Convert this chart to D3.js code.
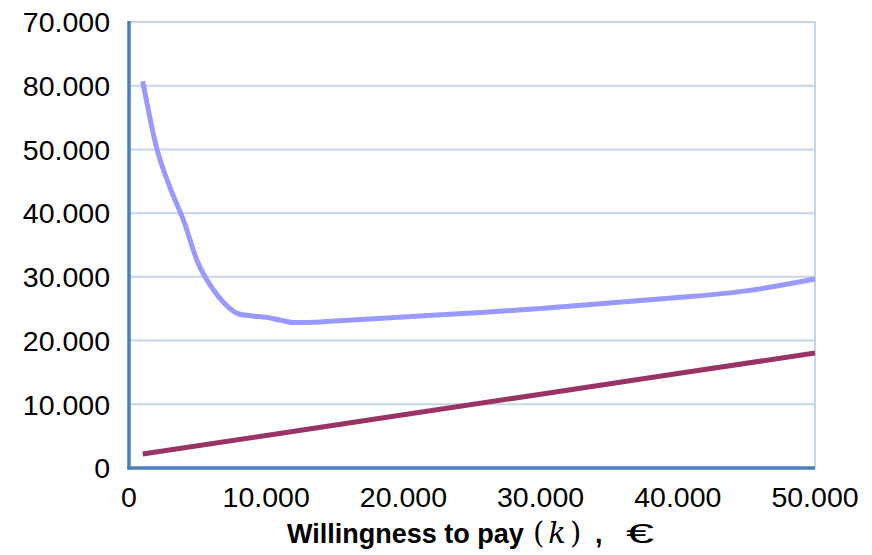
<!DOCTYPE html>
<html>
<head>
<meta charset="utf-8">
<script src="https://cdn.jsdelivr.net/npm/d3@7"></script>
<style>
  html, body { margin: 0; padding: 0; background: #ffffff; }
  svg { display: block; }
</style>
</head>
<body>
<svg id="chart" width="872" height="555"></svg>
<script>
// Willingness to pay k (€)
const kValues = [1000, 2000, 3000, 4000, 5000, 6000, 7000, 8000, 9000, 10000,
                 11000, 12000, 13000, 15000, 20000, 25000, 30000, 35000, 40000, 45000, 50000];
// Upper curve
const upperSeries = [60700, 50380, 43950, 38700, 32330, 28410, 25740, 24170, 23860, 23650,
                     23230, 22840, 22840, 23070, 23700, 24330, 25030, 25900, 26750, 27800, 29660];
// Lower straight line
const lowerK = [1000, 10000, 20000, 30000, 40000, 50000];
const lowerSeries = [2200, 5110, 8350, 11580, 14820, 18050];

const xTicks = [0, 10000, 20000, 30000, 40000, 50000];
const xTickLabels = ["0", "10.000", "20.000", "30.000", "40.000", "50.000"];
const yTicks = [0, 10000, 20000, 30000, 40000, 50000, 60000, 70000];
const yTickLabels = ["0", "10.000", "20.000", "30.000", "40.000", "50.000", "80.000", "70.000"];

const svg = d3.select("#chart");
const plotLeft = 129, plotRight = 815, plotTop = 22, plotBottom = 468;

const x = d3.scaleLinear().domain([0, 50000]).range([plotLeft, plotRight]);
const y = d3.scaleLinear().domain([0, 70000]).range([plotBottom, plotTop]);

const gridColor = "#c6d5e8";
const axisColor = "#4a7ebb";
const font = "'Liberation Sans', Arial, sans-serif";

// horizontal gridlines
svg.append("g")
  .selectAll("line")
  .data(yTicks.filter(d => d > 0))
  .join("line")
  .attr("x1", plotLeft).attr("x2", plotRight)
  .attr("y1", d => y(d)).attr("y2", d => y(d))
  .attr("stroke", gridColor).attr("stroke-width", 2);

// right border of plot area
svg.append("line")
  .attr("x1", plotRight).attr("x2", plotRight)
  .attr("y1", y(70000) - 1).attr("y2", y(0))
  .attr("stroke", gridColor).attr("stroke-width", 2);

// y axis labels
svg.append("g")
  .selectAll("text")
  .data(yTicks)
  .join("text")
  .attr("x", 110)
  .attr("y", d => y(d))
  .attr("dy", "0.36em")
  .attr("text-anchor", "end")
  .attr("font-family", font)
  .attr("font-size", 28.5)
  .attr("fill", "#000")
  .text((d, i) => yTickLabels[i]);

// x axis labels
svg.append("g")
  .selectAll("text")
  .data(xTicks)
  .join("text")
  .attr("x", d => x(d))
  .attr("y", 507)
  .attr("text-anchor", "middle")
  .attr("font-family", font)
  .attr("font-size", 28.5)
  .attr("fill", "#000")
  .text((d, i) => xTickLabels[i]);

// series lines
const upperLine = d3.line()
  .x((d, i) => x(kValues[i]))
  .y(d => y(d))
  .curve(d3.curveMonotoneX);

svg.append("path")
  .datum(upperSeries)
  .attr("d", upperLine)
  .attr("fill", "none")
  .attr("stroke", "#9999ff")
  .attr("stroke-width", 5)
  .attr("stroke-linejoin", "round");

const lowerLine = d3.line()
  .x((d, i) => x(lowerK[i]))
  .y(d => y(d));

svg.append("path")
  .datum(lowerSeries)
  .attr("d", lowerLine)
  .attr("fill", "none")
  .attr("stroke", "#993366")
  .attr("stroke-width", 5);

// axis lines
svg.append("line")
  .attr("x1", plotLeft).attr("x2", plotLeft)
  .attr("y1", plotTop - 1).attr("y2", plotBottom + 1.5)
  .attr("stroke", axisColor).attr("stroke-width", 3.5);
svg.append("line")
  .attr("x1", plotLeft - 1.5).attr("x2", plotRight)
  .attr("y1", plotBottom).attr("y2", plotBottom)
  .attr("stroke", axisColor).attr("stroke-width", 3.5);

// x axis title: bold sans words, math-style (k), then unit
const serif = "'DejaVu Serif', 'Liberation Serif', serif";
const title = svg.append("text")
  .attr("y", 543)
  .attr("font-family", font)
  .attr("font-size", 27)
  .attr("fill", "#000");
title.append("tspan").attr("x", 287).attr("font-weight", "bold").text("Willingness to pay");
title.append("tspan").attr("x", 533).attr("font-family", serif).attr("font-size", 29).text("(");
title.append("tspan").attr("font-family", serif).attr("font-size", 29).attr("font-style", "italic").attr("dx", 4).text("k");
title.append("tspan").attr("font-family", serif).attr("font-size", 29).attr("dx", 4).text(")");
title.append("tspan").attr("x", 595).attr("font-weight", "bold").text(",");
title.append("tspan").attr("x", 626).attr("font-size", 28)
  .attr("textLength", 28).attr("lengthAdjust", "spacingAndGlyphs").text("€");
</script>
</body>
</html>
